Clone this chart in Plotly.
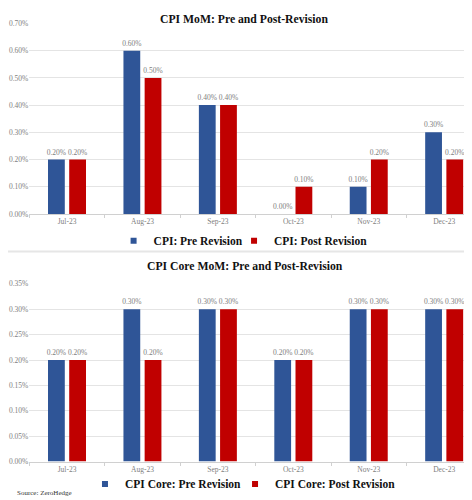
import plotly.graph_objects as go

months = ["Jul-23", "Aug-23", "Sep-23", "Oct-23", "Nov-23", "Dec-23"]

cpi_pre = [0.20, 0.60, 0.40, 0.00, 0.10, 0.30]
cpi_post = [0.20, 0.50, 0.40, 0.10, 0.20, 0.20]

core_pre = [0.20, 0.30, 0.30, 0.20, 0.30, 0.30]
core_post = [0.20, 0.20, 0.30, 0.20, 0.30, 0.30]

top_ticks = [0.0, 0.1, 0.2, 0.3, 0.4, 0.5, 0.6, 0.7]
bot_ticks = [0.0, 0.05, 0.10, 0.15, 0.20, 0.25, 0.30, 0.35]

BLUE = "#2F5597"
RED = "#C00000"
SERIF = "Liberation Serif"
GREY = "#808080"

fig = go.Figure()


def add_bar(vals, name, color, xa, ya, legend):
    fig.add_trace(go.Bar(
        x=months, y=vals, name=name, showlegend=False,
        marker=dict(color=color, line=dict(width=0)),
        text=[f"{v:.2f}%" for v in vals],
        textposition="outside",
        constraintext="none",
        cliponaxis=False,
        textfont=dict(family=SERIF, size=7.5, color=GREY),
        xaxis=xa, yaxis=ya,
    ))
    # legend entry with a small square marker, one legend per entry so each can be placed
    fig.add_trace(go.Scatter(
        x=[None], y=[None], mode="markers", name=name,
        marker=dict(symbol="square", size=6, color=color),
        xaxis=xa, yaxis=ya, legend=legend,
    ))


add_bar(cpi_pre, "CPI: Pre Revision", BLUE, "x", "y", "legend")
add_bar(cpi_post, "CPI: Post Revision", RED, "x", "y", "legend2")
add_bar(core_pre, "CPI Core: Pre Revision", BLUE, "x2", "y2", "legend3")
add_bar(core_post, "CPI Core: Post Revision", RED, "x2", "y2", "legend4")

xax = dict(domain=[0.0451, 1.0], range=[-0.5, 5.475],
           showline=True, linecolor="#d0d0d0", linewidth=1,
           ticks="outside", tickson="boundaries", ticklen=3, tickcolor="#d0d0d0",
           showgrid=False, tickfont=dict(family=SERIF, size=7.5, color=GREY))

yax = dict(showgrid=True, gridcolor="#e4e4e4", gridwidth=1, zeroline=False,
           showline=False, tickfont=dict(family=SERIF, size=7.5, color=GREY))

legfont = dict(family=SERIF, size=11.5, color="#111111", weight="bold")
titlefont = dict(family=SERIF, size=11.7, color="#111111")


def leg(x, y):
    return dict(orientation="h", x=x, xanchor="left", y=y, yanchor="middle",
                font=legfont, itemwidth=30, bgcolor="rgba(0,0,0,0)")


fig.update_layout(
    width=472, height=500,
    margin=dict(l=0, r=0, t=0, b=0),
    paper_bgcolor="white", plot_bgcolor="white",
    barmode="group", bargap=0.438, bargroupgap=0.208,
    xaxis=dict(xax, anchor="y"),
    xaxis2=dict(xax, anchor="y2"),
    yaxis=dict(yax, domain=[0.5888, 0.9765], range=[0, 0.7],
               tickvals=top_ticks, ticktext=[f"{t:.2f}%" for t in top_ticks]),
    yaxis2=dict(yax, domain=[0.0843, 0.4464], range=[0, 0.35],
                tickvals=bot_ticks, ticktext=[f"{t:.2f}%" for t in bot_ticks]),
    legend=leg(0.2237, 0.534),
    legend2=leg(0.4789, 0.534),
    legend3=leg(0.1631, 0.0388),
    legend4=leg(0.481, 0.0388),
    annotations=[
        dict(text="<b>CPI MoM: Pre and Post-Revision</b>", x=0.5, y=1.0,
             xanchor="center", yanchor="top", borderpad=0,
             xref="paper", yref="paper", showarrow=False, font=titlefont),
        dict(text="<b>CPI Core MoM: Pre and Post-Revision</b>", x=0.502, y=0.4816,
             xanchor="center", yanchor="middle",
             xref="paper", yref="paper", showarrow=False, font=titlefont),
        dict(text="Source: ZeroHedge", x=0.015, y=0.02, xanchor="left", yanchor="middle",
             xref="paper", yref="paper", showarrow=False,
             font=dict(family=SERIF, size=7, color="#333")),
    ],
    shapes=[dict(type="line", xref="paper", yref="paper", x0=0, x1=1, y0=0.512, y1=0.512,
                 line=dict(color="#e6e6e6", width=2))],
)

fig.write_html("out.html")
